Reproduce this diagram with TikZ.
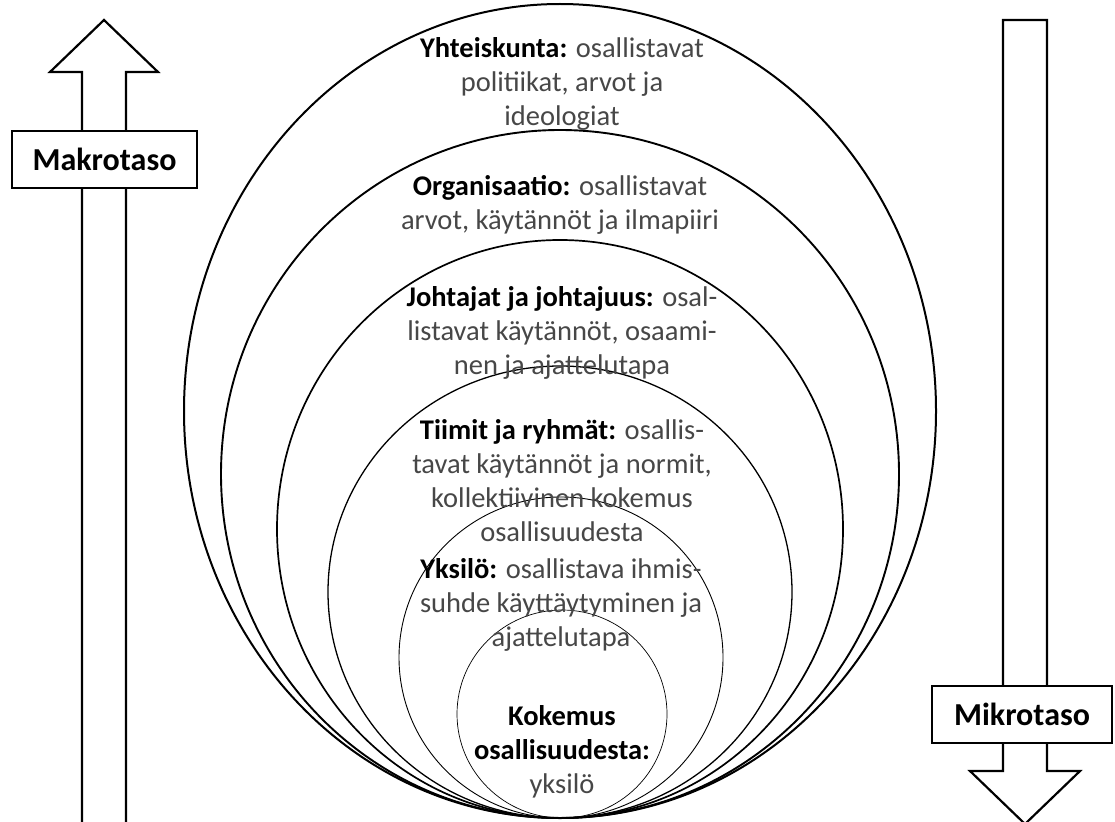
\documentclass[tikz,border=0pt]{standalone}
\usepackage{fontspec}
\setmainfont{Carlito}
\newcommand{\hd}[1]{\textcolor{black}{\bfseries #1}}
\begin{document}
\begin{tikzpicture}[x=1pt,y=-1pt,
  ring/.style={draw=black,line width=#1},
  lbl/.style={align=center,inner sep=0pt,text=black!72,font=\fontsize{28.5}{34}\selectfont},
  lvl/.style={draw=black,line width=2.2pt,fill=white,minimum width=#1,minimum height=57pt,inner sep=0pt,font=\fontsize{32}{36}\selectfont\bfseries},
  shaft/.style={draw=black,line width=2.2pt,line join=miter,fill=white}]
\useasboundingbox (0,0) rectangle (1115,821);
\fill[white] (0,0) rectangle (1115,821);
% arrows
\draw[shaft] (82,830) -- (82,72) -- (50,72) -- (104,20) -- (158,72) -- (126,72) -- (126,830);
\draw[shaft] (1003,771) -- (1003,20) -- (1047,20) -- (1047,771) -- (1080,771) -- (1025,824) -- (970,771) -- cycle;
\node[lvl=185pt] (makro) at (104.5,159.5) {Makrotaso};
\node[lvl=180pt] (mikro) at (1022,714.5) {Mikrotaso};
% nested ellipses, all tangent at the bottom point
\draw[ring=2pt] (560,411) ellipse [x radius=376pt, y radius=407pt];
\draw[ring=1.9pt] (560,474) ellipse [x radius=339pt, y radius=344pt];
\draw[ring=1.7pt] (560,529) ellipse [x radius=283pt, y radius=289pt];
\draw[ring=1.3pt] (560,592) ellipse [x radius=232pt, y radius=226pt];
\draw[ring=0.9pt] (561,657.5) ellipse [x radius=162pt, y radius=160.5pt];
\draw[ring=0.7pt] (562,714) ellipse [x radius=105pt, y radius=104pt];
% labels
\node[lbl] (t1) at (562,84) {\hd{Yhteiskunta:} osallistavat\\politiikat, arvot ja\\ideologiat};
\node[lbl] (t2) at (560,205) {\hd{Organisaatio:} osallistavat\\arvot, käytännöt ja ilmapiiri};
\node[lbl] (t3) at (562,333) {\hd{Johtajat ja johtajuus:} osal-\\listavat käytännöt, osaami-\\nen ja ajattelutapa};
\node[lbl] (t4) at (562,481) {\hd{Tiimit ja ryhmät:} osallis-\\tavat käytännöt ja normit,\\kollektiivinen kokemus\\osallisuudesta};
\node[lbl] (t5) at (561,605) {\hd{Yksilö:} osallistava ihmis-\\suhde käyttäytyminen ja\\ajattelutapa};
\node[lbl] (t6) at (562,752) {\hd{Kokemus}\\\hd{osallisuudesta:}\\yksilö};
\end{tikzpicture}
\end{document}
